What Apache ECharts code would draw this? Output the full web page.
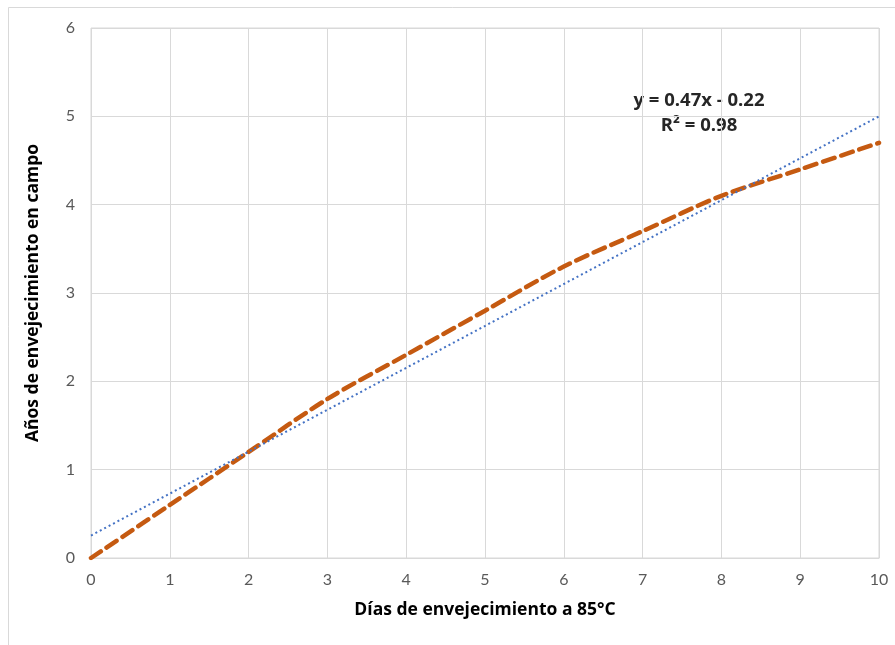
<!DOCTYPE html>
<html>
<head>
<meta charset="utf-8">
<script src="https://cdn.jsdelivr.net/npm/echarts@6/dist/echarts.min.js"></script>
<style>
  html, body { margin: 0; padding: 0; background: #fff; }
  #chart { width: 895px; height: 645px; }
</style>
</head>
<body>
<div id="chart"></div>
<script>
// Days of accelerated ageing at 85 °C vs. equivalent years of field ageing
const dias = [0, 1, 2, 3, 4, 5, 6, 7, 8, 9, 10];
const anosCampo = [0, 0.6, 1.2, 1.8, 2.3, 2.8, 3.3, 3.7, 4.1, 4.4, 4.7];
const yTicks = [0, 1, 2, 3, 4, 5, 6];
const xTicks = [0, 1, 2, 3, 4, 5, 6, 7, 8, 9, 10];
const ecuacion = 'y = 0.47x - 0.22';
const r2 = 'R² = 0.98';

// Least-squares linear trend over the measured points
function tendencia(xs, ys) {
  const n = xs.length;
  const mx = xs.reduce((a, b) => a + b, 0) / n;
  const my = ys.reduce((a, b) => a + b, 0) / n;
  let sxy = 0, sxx = 0;
  for (let i = 0; i < n; i++) {
    sxy += (xs[i] - mx) * (ys[i] - my);
    sxx += (xs[i] - mx) * (xs[i] - mx);
  }
  const m = sxy / sxx;
  const b = my - m * mx;
  const x0 = xs[0], x1 = xs[n - 1];
  return [[x0, m * x0 + b], [x1, m * x1 + b]];
}

const chart = echarts.init(document.getElementById('chart'), null, { renderer: 'canvas' });
const fuenteTitulo = '"Open Sans", "Noto Sans", sans-serif';
const fuenteEje = 'Lato, "Open Sans", sans-serif';
const gridColor = '#d9d9d9';

chart.setOption({
  animation: false,
  backgroundColor: '#fff',
  textStyle: { fontFamily: fuenteEje },
  graphic: [
    {
      type: 'rect',
      shape: { x: 8.5, y: 7.5, width: 1000, height: 1000 },
      style: { fill: 'none', stroke: gridColor, lineWidth: 1 },
      silent: true
    },
    {
      type: 'text',
      x: 699, y: 101,
      style: { text: ecuacion, font: 'bold 18.5px ' + fuenteTitulo, fill: '#262626', align: 'center', verticalAlign: 'middle' }
    },
    {
      type: 'text',
      x: 699, y: 126,
      style: { text: r2, font: 'bold 18.5px ' + fuenteTitulo, fill: '#262626', align: 'center', verticalAlign: 'middle' }
    }
  ],
  grid: { left: 91, right: 16, top: 28, bottom: 87, show: true, borderColor: gridColor, borderWidth: 1 },
  xAxis: {
    type: 'value',
    min: xTicks[0], max: xTicks[xTicks.length - 1], interval: 1,
    name: 'Días de envejecimiento a 85°C',
    nameLocation: 'middle', nameGap: 43,
    nameTextStyle: { fontWeight: 'bold', fontSize: 17.5, color: '#000', fontFamily: fuenteTitulo },
    axisLine: { show: true, lineStyle: { color: gridColor, width: 1 } },
    axisTick: { show: false },
    axisLabel: { color: '#595959', fontSize: 16, margin: 14, fontFamily: fuenteEje },
    splitLine: { show: true, lineStyle: { color: gridColor, width: 1 } }
  },
  yAxis: {
    type: 'value',
    min: yTicks[0], max: yTicks[yTicks.length - 1], interval: 1,
    name: 'Años de envejecimiento en campo',
    nameLocation: 'middle', nameGap: 49,
    nameTextStyle: { fontWeight: 'bold', fontSize: 17.5, color: '#000', fontFamily: fuenteTitulo },
    axisLine: { show: false },
    axisTick: { show: false },
    axisLabel: { color: '#595959', fontSize: 16, margin: 16, fontFamily: fuenteEje },
    splitLine: { show: true, lineStyle: { color: gridColor, width: 1 } }
  },
  series: [
    {
      name: 'Tendencia',
      type: 'line',
      data: tendencia(dias, anosCampo),
      showSymbol: false,
      lineStyle: { color: '#4472C4', width: 2, type: [2, 3] },
      z: 3
    },
    {
      name: 'Años en campo',
      type: 'line',
      data: dias.map((d, i) => [d, anosCampo[i]]),
      smooth: 0.3,
      showSymbol: false,
      lineStyle: { color: '#C55A11', width: 4.5, type: [12, 7], cap: 'round' },
      z: 2
    }
  ]
});
</script>
</body>
</html>
